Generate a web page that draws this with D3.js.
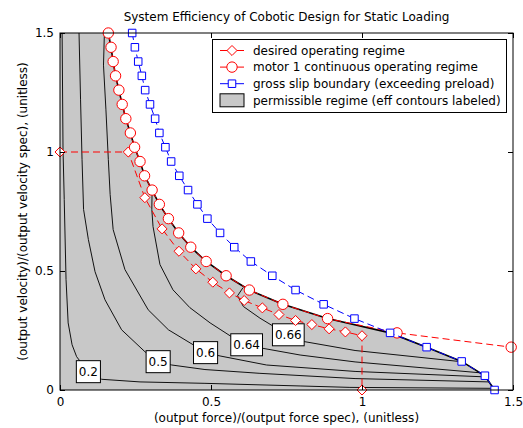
<!DOCTYPE html>
<html lang="en">
<head>
<meta charset="utf-8">
<script src="https://cdn.jsdelivr.net/npm/d3@7"></script>
<style>
  body { margin: 0; background: #fff; }
  text { font-family: "DejaVu Sans", Verdana, sans-serif; fill: #000; }
</style>
</head>
<body>
<script>

// ---- data ----
// desired operating regime (diamonds)
var desiredX = [0, 0.226, 0.281, 0.338, 0.394, 0.450, 0.506, 0.561, 0.610, 0.670, 0.725, 0.780, 0.834, 0.891, 0.945, 1.0, 1.0];
var desiredY = [1, 1, 0.808, 0.677, 0.583, 0.509, 0.453, 0.408, 0.376, 0.345, 0.317, 0.292, 0.275, 0.257, 0.244, 0.228, 0];

// motor 1 continuous operating regime (circles)
var motorY = [1.5, 1.44, 1.38, 1.32, 1.26, 1.2, 1.14, 1.08, 1.02, 0.96, 0.9, 0.84, 0.78, 0.72, 0.66, 0.6, 0.54, 0.48, 0.42, 0.36, 0.3, 0.24, 0.18];
var motorX = [0.160, 0.169, 0.176, 0.184, 0.195, 0.206, 0.218, 0.233, 0.247, 0.265, 0.280, 0.305, 0.329, 0.359, 0.393, 0.433, 0.484, 0.550, 0.627, 0.738, 0.886, 1.116, 1.494];

// gross slip boundary (squares)
var slipY = [1.5, 1.44, 1.38, 1.32, 1.26, 1.2, 1.14, 1.08, 1.02, 0.96, 0.9, 0.84, 0.78, 0.72, 0.66, 0.6, 0.54, 0.48, 0.42, 0.36, 0.3, 0.24, 0.18, 0.12, 0.06, 0];
var slipX = [0.239, 0.248, 0.259, 0.271, 0.282, 0.298, 0.315, 0.329, 0.349, 0.368, 0.395, 0.424, 0.455, 0.488, 0.530, 0.577, 0.632, 0.703, 0.780, 0.873, 0.975, 1.093, 1.214, 1.330, 1.407, 1.439];

// efficiency contours
var contour02 = [[0.007,1.5],[0.010,1.011],[0.014,0.801],[0.020,0.464],[0.027,0.282],[0.040,0.190],[0.055,0.140],[0.093,0.077],[0.138,0.045],[0.265,0.034],[0.480,0.028],[0.795,0.017],[0.960,0.011],[1.434,0.007]];
var contour05 = [[0.063,1.5],[0.068,1.222],[0.073,0.969],[0.078,0.759],[0.094,0.632],[0.116,0.497],[0.149,0.379],[0.204,0.253],[0.281,0.161],[0.325,0.119],[0.370,0.105],[0.480,0.086],[0.662,0.070],[0.977,0.048],[1.421,0.034]];
var contour06 = [[0.147,1.5],[0.144,1.365],[0.152,1.18],[0.160,0.969],[0.166,0.822],[0.176,0.674],[0.215,0.506],[0.292,0.337],[0.359,0.253],[0.441,0.190],[0.482,0.157],[0.530,0.143],[0.684,0.105],[0.977,0.078],[1.410,0.055]];
var contour064 = [[0.305,0.839],[0.304,0.759],[0.308,0.687],[0.331,0.527],[0.374,0.421],[0.430,0.346],[0.497,0.282],[0.563,0.228],[0.618,0.190],[0.668,0.176],[0.795,0.147],[0.977,0.118],[1.394,0.072]];
var contour066 = [[0.606,0.430],[0.588,0.396],[0.607,0.351],[0.662,0.302],[0.753,0.232],[0.806,0.204],[0.977,0.166],[1.328,0.119]];

var contourLevels = ["0.2", "0.5", "0.6", "0.64", "0.66"];
var labelX = [0.094, 0.325, 0.482, 0.618, 0.756];
var labelY = [0.077, 0.119, 0.157, 0.190, 0.232];

var tickVals = [0, 0.5, 1, 1.5];
var legendLabels = ["desired operating regime", "motor 1 continuous operating regime",
                    "gross slip boundary (exceeding preload)", "permissible regime (eff contours labeled)"];

// ---- drawing ----
const W = 523, H = 428;
var margin = {top: 33, right: 10, bottom: 38, left: 60};

const xScale = d3.scaleLinear().domain([0, 1.5]).range([margin.left, W - margin.right]);
const yScale = d3.scaleLinear().domain([0, 1.5]).range([H - margin.bottom, margin.top]);

const svg = d3.select("body").append("svg")
  .attr("width", W)
  .attr("height", H);

const RED = "#ff0000", BLUE = "#0000ff", GREY = "#c8c8c8";

// permissible region: inside both the motor curve and the slip boundary
var edge = slipY.map(function(y, i) {
  var j = motorY.indexOf(y);
  var x = j >= 0 ? Math.min(motorX[j], slipX[i]) : slipX[i];
  return [x, y];
});
var region = [[0, 0], [0, 1.5]].concat(edge);

var line = d3.line().x(d => xScale(d[0])).y(d => yScale(d[1]));

svg.append("path")
  .attr("d", line(region) + "Z")
  .attr("fill", GREY)
  .attr("stroke", "none");

var contours = [contour02, contour05, contour06, contour064, contour066];
svg.append("g").selectAll("path")
  .data(contours)
  .enter()
  .append("path")
  .attr("d", d => line(d))
  .attr("fill", "none")
  .attr("stroke", "#111")
  .attr("stroke-width", 1);

// contour labels
var labels = svg.append("g").selectAll("g")
  .data(contourLevels)
  .enter()
  .append("g")
  .attr("transform", (d, i) => "translate(" + xScale(labelX[i]) + "," + yScale(labelY[i]) + ")");

labels.append("text")
  .attr("text-anchor", "middle")
  .attr("dy", "0.36em")
  .style("font-size", "12px")
  .text(d => d)
  .each(function() {
    var b = this.getBBox();
    d3.select(this.parentNode).insert("rect", "text")
      .attr("x", b.x - 2.5)
      .attr("y", -11)
      .attr("width", b.width + 5)
      .attr("height", 22)
      .attr("fill", "#fff")
      .attr("stroke", "#000")
      .attr("stroke-width", 1);
  });

// permissible boundary
svg.append("path")
  .attr("d", line(edge))
  .attr("fill", "none")
  .attr("stroke", "#000")
  .attr("stroke-width", 1.6);

// series
var diamond = d3.symbol().type(d3.symbolDiamond2).size(64);
var square = d3.symbol().type(d3.symbolSquare2).size(72);

function series(xs, ys, color, drawMarker) {
  var pts = xs.map((x, i) => [x, ys[i]]);
  var g = svg.append("g");
  g.append("path")
    .attr("d", line(pts))
    .attr("fill", "none")
    .attr("stroke", color)
    .attr("stroke-width", 1)
    .attr("stroke-dasharray", "7,4");
  g.selectAll(".m")
    .data(pts)
    .enter()
    .append("g")
    .attr("transform", d => "translate(" + xScale(d[0]) + "," + yScale(d[1]) + ")")
    .each(function() { drawMarker(d3.select(this), color); });
}

function drawDiamond(sel, color) {
  sel.append("path").attr("d", diamond).attr("fill", "#fff").attr("stroke", color).attr("stroke-width", 1);
}
function drawCircle(sel, color) {
  sel.append("circle").attr("r", 5.2).attr("fill", "#fff").attr("stroke", color).attr("stroke-width", 1);
}
function drawSquare(sel, color) {
  sel.append("path").attr("d", square).attr("fill", "#fff").attr("stroke", color).attr("stroke-width", 1);
}

series(desiredX, desiredY, RED, drawDiamond);
series(motorX, motorY, RED, drawCircle);
series(slipX, slipY, BLUE, drawSquare);

// axes, ticks point inward
svg.append("g")
  .attr("transform", "translate(0," + yScale(0) + ")")
  .call(d3.axisBottom(xScale).tickValues(tickVals).tickSize(-5).tickPadding(7).tickFormat(d3.format("")))
  .call(g => g.select(".domain").remove());
svg.append("g")
  .attr("transform", "translate(" + xScale(0) + ",0)")
  .call(d3.axisLeft(yScale).tickValues(tickVals).tickSize(-5).tickPadding(6).tickFormat(d3.format("")))
  .call(g => g.select(".domain").remove());
svg.append("g")
  .attr("transform", "translate(0," + yScale(1.5) + ")")
  .call(d3.axisTop(xScale).tickValues(tickVals).tickSize(-5).tickFormat(""))
  .call(g => g.select(".domain").remove());
svg.append("g")
  .attr("transform", "translate(" + xScale(1.5) + ",0)")
  .call(d3.axisRight(yScale).tickValues(tickVals).tickSize(-5).tickFormat(""))
  .call(g => g.select(".domain").remove());
svg.selectAll(".tick text").style("font-size", "12px").style("font-family", "DejaVu Sans").attr("fill", "#000");
svg.selectAll(".tick line").attr("stroke", "#000");

svg.append("rect")
  .attr("x", xScale(0))
  .attr("y", yScale(1.5))
  .attr("width", xScale(1.5) - xScale(0))
  .attr("height", yScale(0) - yScale(1.5))
  .attr("fill", "none")
  .attr("stroke", "#000")
  .attr("stroke-width", 1);

// titles
svg.append("text")
  .attr("x", (xScale(0) + xScale(1.5)) / 2)
  .attr("y", 21)
  .attr("text-anchor", "middle")
  .style("font-size", "12px")
  .text("System Efficiency of Cobotic Design for Static Loading");

svg.append("text")
  .attr("x", (xScale(0) + xScale(1.5)) / 2)
  .attr("y", 422)
  .attr("text-anchor", "middle")
  .style("font-size", "12px")
  .text("(output force)/(output force spec), (unitless)");

svg.append("text")
  .attr("transform", "rotate(-90)")
  .attr("x", -(yScale(0) + yScale(1.5)) / 2)
  .attr("y", 27)
  .attr("text-anchor", "middle")
  .style("font-size", "12px")
  .text("(output velocity)/(output velocity spec), (unitless)");

// legend
var legend = svg.append("g").attr("id", "legend");
legend.append("rect")
  .attr("x", 212.5)
  .attr("y", 39.5)
  .attr("width", 294)
  .attr("height", 73)
  .attr("fill", "#fff")
  .attr("stroke", "#000")
  .attr("stroke-width", 1);

var rows = legend.selectAll(".row")
  .data(legendLabels)
  .enter()
  .append("g")
  .attr("transform", (d, i) => "translate(232," + (50.5 + i * 16.6) + ")");

rows.append("text")
  .attr("x", 21)
  .attr("dy", "0.35em")
  .style("font-size", "12px")
  .text(d => d);

var markers = [drawDiamond, drawCircle, drawSquare];
var colors = [RED, RED, BLUE];
rows.each(function(d, i) {
  var r = d3.select(this);
  if (i < 3) {
    r.append("line").attr("x1", -12).attr("x2", 12)
      .attr("stroke", colors[i]).attr("stroke-width", 1);
    markers[i](r, colors[i]);
  } else {
    r.append("rect").attr("x", -12).attr("y", -6.5).attr("width", 24).attr("height", 13)
      .attr("fill", GREY).attr("stroke", "#000").attr("stroke-width", 1);
  }
});

</script>
</body>
</html>
